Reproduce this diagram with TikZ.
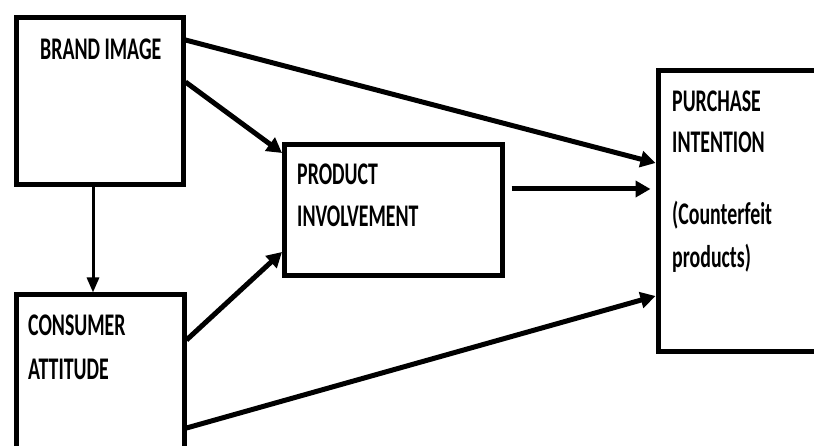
\documentclass[tikz,border=0pt]{standalone}
\usepackage{fontspec}
\setmainfont{Carlito}
\newfontfamily\labelfont[FakeStretch=0.63]{Carlito}
\usetikzlibrary{arrows.meta,calc}

\tikzset{
  box/.style={draw=black, line width=5pt, fill=white, inner sep=0pt},
  lbl/.style={anchor=base west, inner sep=0pt, font=\labelfont\bfseries\fontsize{31.5}{36}\selectfont},
  link/.style={line width=5pt, -{Triangle[length=15pt,width=16pt]}},
  thinlink/.style={line width=3pt, -{Triangle[length=15pt,width=12pt]}}
}

\begin{document}
\begin{tikzpicture}[x=1pt,y=-1pt]
  \useasboundingbox (0,0) rectangle (814,446);
  \clip (0,0) rectangle (814,446);
  \fill[white] (0,0) rectangle (814,446);

  % boxes
  \node[box, minimum width=167pt, minimum height=167pt] (brand) at (99.5,101.5) {};
  \node[box, minimum width=168pt, minimum height=175pt] (cons)  at (100,382.5) {};
  \node[box, minimum width=217.5pt, minimum height=131pt] (prod) at (393.25,210.5) {};
  \node[box, minimum width=182pt, minimum height=280pt] (purch) at (749,211) {};

  % labels
  \node[lbl] (tBrand) at (40,60) {BRAND IMAGE};
  \node[lbl] (tCons1) at (28,335) {CONSUMER};
  \node[lbl] (tCons2) at (28,379) {ATTITUDE};
  \node[lbl] (tProd1) at (297,185) {PRODUCT};
  \node[lbl] (tProd2) at (297,227) {INVOLVEMENT};
  \node[lbl] (tPur1) at (672,112) {PURCHASE};
  \node[lbl] (tPur2) at (672,153) {INTENTION};
  \node[lbl] (tPur3) at (672,225) {(Counterfeit};
  \node[lbl] (tPur4) at (672,268) {products)};

  % connectors
  \coordinate (midStart) at ($(prod.east |- 0,189)+(7,0)$);
  \coordinate (midEnd) at ($(purch.west |- 0,189)+(-5,0)$);

  \draw[link] (brand.east |- 0,40) -- (purch.west |- 0,163);
  \draw[link] (brand.east |- 0,82) -- (prod.west |- 0,153);
  \draw[thinlink] (brand.south -| 93,0) -- (cons.north -| 93,0);
  \draw[link] (cons.east |- 0,340) -- (prod.west |- 0,252);
  \draw[link] (midStart) -- (midEnd);
  \draw[link] (cons.east |- 0,428) -- (purch.west |- 0,296);
\end{tikzpicture}
\end{document}
